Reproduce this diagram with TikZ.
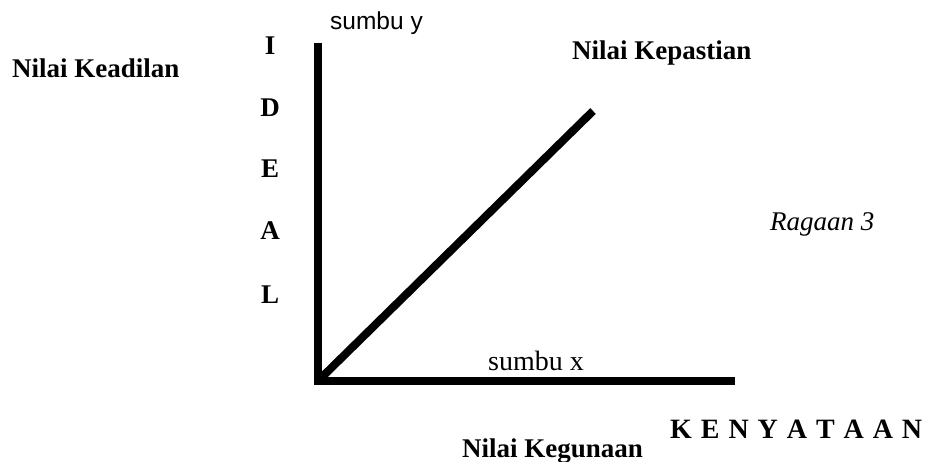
\documentclass[tikz,border=0pt]{standalone}
\usepackage{fontspec}
\setmainfont{Liberation Serif}
\newfontfamily\arialfont{Liberation Sans}
\begin{document}
\begin{tikzpicture}[x=1pt,y=-1pt,
  lbl/.style={inner sep=0pt,anchor=base west,font=\fontsize{27}{30}\selectfont\bfseries},
  axis/.style={line width=8pt,line join=miter},
  diag/.style={line width=8pt}]
\useasboundingbox (0,0) rectangle (925,462);
\coordinate (ytop) at (318,43);
\coordinate (origin) at (318,381);
\coordinate (xend) at (735,381);
\coordinate (dend) at (593,111);
\coordinate (dstart) at (320,379);
\draw[axis] (ytop) -- (origin) -- (xend);
\draw[diag] (dstart) -- (dend);
\node[lbl] (keadilan) at (12,78) {Nilai Keadilan};
\node[lbl] (kepastian) at (572,60) {Nilai Kepastian};
\node[lbl] (kegunaan) at (462,457) {Nilai Kegunaan};
\node[inner sep=0pt,anchor=base west,font=\arialfont\fontsize{24.5}{28}\selectfont] (sy) at (330,30) {sumbu y};
\node[inner sep=0pt,anchor=base west,font=\fontsize{28}{30}\selectfont] (sx) at (488,370) {sumbu x};
\node[inner sep=0pt,anchor=base west,font=\fontsize{27}{30}\selectfont\itshape] (ragaan) at (770,230) {Ragaan 3};
\node[lbl,anchor=base] (li) at (270,55) {I};
\node[lbl,anchor=base] (ld) at (270,117) {D};
\node[lbl,anchor=base] (le) at (270,178) {E};
\node[lbl,anchor=base] (la) at (270,240) {A};
\node[lbl,anchor=base] (ll) at (270,303) {L};
\node[lbl,font=\fontsize{28}{30}\selectfont\bfseries] (keny) at (670,438) {\makebox[252pt][s]{K E N Y A T A A N}};
\end{tikzpicture}
\end{document}
